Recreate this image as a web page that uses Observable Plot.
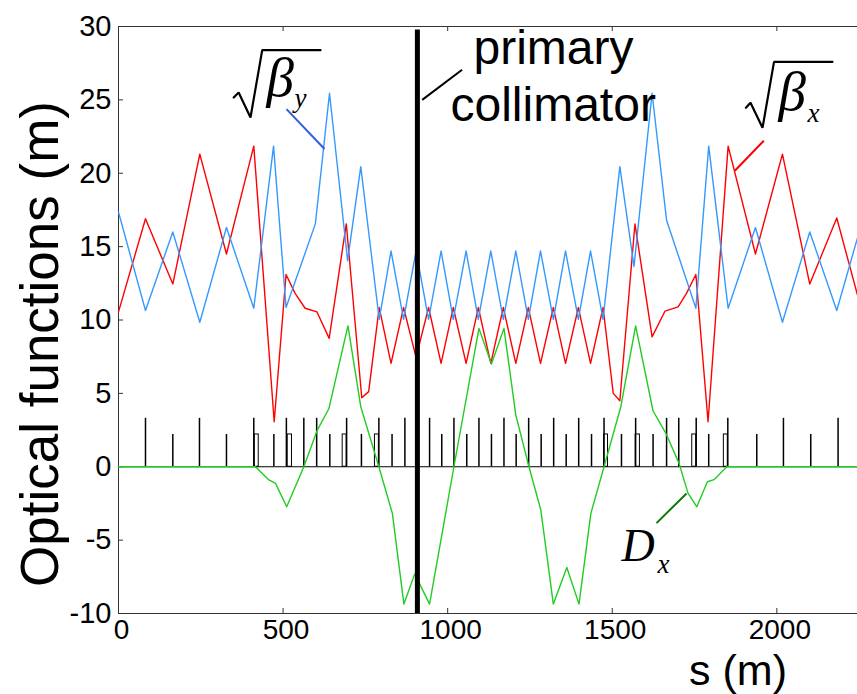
<!DOCTYPE html>
<html><head><meta charset="utf-8">
<script src="https://cdn.jsdelivr.net/npm/d3@7"></script>
<script src="https://cdn.jsdelivr.net/npm/@observablehq/plot@0.6"></script>
<style>body{margin:0;background:#fff}</style>
</head><body><div id="chart"></div>
<script>
// ---- data (s in m, values in m) ----
const sBetaY = [0, 82, 165, 247, 328, 411, 471, 509, 598, 641, 696, 736, 792, 828, 866, 904, 942, 980, 1017, 1056, 1093, 1131, 1169, 1207, 1245, 1282, 1321, 1358, 1397, 1434, 1472, 1523, 1566, 1621, 1665, 1754, 1793, 1852, 1935, 2017, 2100, 2182, 2245];
const sqrtBetaY = [17.35, 10.65, 16.0, 9.85, 16.3, 10.8, 21.85, 10.85, 16.55, 25.45, 14.05, 20.45, 10.05, 14.7, 10.05, 14.7, 10.05, 14.7, 10.05, 14.7, 10.05, 14.7, 10.05, 14.7, 10.05, 14.7, 10.05, 14.7, 10.05, 14.7, 10.05, 20.45, 13.65, 25.45, 16.8, 10.8, 21.85, 10.8, 16.3, 9.85, 16.0, 10.65, 15.6];

const sBetaX = [0, 82, 165, 247, 328, 411, 473, 509, 537, 567, 603, 640, 692, 739, 760, 792, 828, 866, 904, 942, 980, 1017, 1056, 1093, 1131, 1169, 1207, 1245, 1282, 1321, 1358, 1397, 1434, 1472, 1503, 1523, 1569, 1621, 1660, 1700, 1725, 1754, 1791, 1852, 1935, 2017, 2100, 2182, 2245];
const sqrtBetaX = [10.55, 16.9, 12.45, 21.3, 14.5, 21.85, 3.07, 13.1, 11.8, 10.8, 10.55, 8.75, 16.55, 4.7, 5.12, 10.85, 7.05, 10.85, 7.45, 10.85, 7.05, 10.85, 7.05, 10.85, 7.05, 10.85, 7.05, 10.85, 7.05, 10.85, 7.05, 10.85, 7.05, 10.85, 5.0, 4.5, 16.55, 8.85, 10.6, 10.9, 11.8, 13.1, 3.07, 21.85, 14.5, 21.3, 12.45, 16.95, 11.7];

const sDx = [0, 416, 457, 477, 511, 563, 604, 639, 697, 736, 791, 832, 867, 900, 945, 1019, 1095, 1133, 1171, 1207, 1247, 1283, 1321, 1362, 1399, 1435, 1475, 1526, 1571, 1624, 1663, 1703, 1730, 1757, 1789, 1809, 1848, 2245];
const dispX = [0, 0, -0.9, -1.13, -2.73, 0, 2.5, 3.95, 9.6, 4.09, 0, -3.18, -9.36, -7.3, -9.36, 0, 9.43, 7.0, 9.43, 3.52, 0, -2.95, -9.36, -6.86, -9.36, -3.18, 0, 4.09, 9.6, 3.8, 2.27, 0.23, -1.8, -2.73, -1.02, -0.88, 0, 0];

// lattice elements
const tallElems = [82, 246, 411, 510, 563, 602, 693, 791, 870, 945, 1019, 1095, 1171, 1246, 1322, 1398, 1475, 1571, 1665, 1702, 1755, 1851, 2020, 2186];
const shortElems = [165, 328, 472, 642, 738, 831, 908, 982, 1058, 1133, 1208, 1284, 1360, 1437, 1528, 1624, 1793, 1939, 2103];
const boxStart = [414, 514, 681, 779, 1475, 1571, 1743, 1839];
const boxEnd   = [426, 527, 693, 791, 1487, 1584, 1755, 1851];
const collimatorS = [908];

const xTicks = [0, 500, 1000, 1500, 2000];
const yTicks = [-10, -5, 0, 5, 10, 15, 20, 25, 30];

// ---- tables ----
const by = sBetaY.map((s, i) => ({s, v: sqrtBetaY[i]}));
const bx = sBetaX.map((s, i) => ({s, v: sqrtBetaX[i]}));
const dx = sDx.map((s, i) => ({s, v: dispX[i]}));
const boxes = boxStart.map((s, i) => ({s1: s, s2: boxEnd[i]}));

// annotation geometry (data units)
const radicalY = [{s:350,v:25.16},{s:365,v:25.5},{s:401,v:23.8},{s:436.6,v:28.39},{s:613.7,v:28.39}];
const radicalX = [{s:1906,v:24.46},{s:1920,v:24.8},{s:1956.5,v:23.1},{s:1991.4,v:27.59},{s:2169,v:27.59}];
const serifLabels = [
  {s:449.6, v:25.28, t:"β", size:55},
  {s:534.7, v:24.54, t:"y", size:27},
  {s:2005, v:24.28, t:"β", size:55},
  {s:2093, v:23.46, t:"x", size:27},
  {s:1528, v:-6.41, t:"D", size:46},
  {s:1637.5, v:-7.21, t:"x", size:27}
];
const sansLabels = [
  {s:1078.5, v:27.46, t:"primary"},
  {s:1008.6, v:23.57, t:"collimator"}
];
const leaders = [
  {s1:510.4, v1:24.37, s2:625.8, v2:21.65, c:"#2f5fe0"},
  {s1:1960.4, v1:22.21, s2:1872.3, v2:20.17, c:"#ff0000"},
  {s1:1634.4, v1:-3.84, s2:1725.6, v2:-1.82, c:"#0a7a0a"},
  {s1:922.6, v1:25.0, s2:1043.8, v2:27.05, c:"#000"}
];

const SANS = "'Liberation Sans', Arial, Helvetica, sans-serif";
const SERIF = "'Liberation Serif', 'Times New Roman', serif";

const chart = Plot.plot({
  width: 857, height: 694,
  marginLeft: 118, marginRight: 0, marginTop: 26, marginBottom: 81,
  x: {domain: [0, 2245], label: null},
  y: {domain: [-10, 30], label: null},
  style: {fontFamily: SANS, fontSize: "28px", color: "#000", background: "#fff"},
  marks: [
    // frame (top, bottom, left)
    Plot.ruleY([30, -10], {stroke: "#333", strokeWidth: 1}),
    Plot.ruleX([0], {stroke: "#333", strokeWidth: 1}),
    // inward ticks
    Plot.tickX(xTicks, {x: d => d, insetTop: 582, stroke: "#333"}),
    Plot.tickX(xTicks, {x: d => d, insetBottom: 582, stroke: "#333"}),
    Plot.tickY(yTicks, {y: d => d, insetRight: 734, stroke: "#333"}),
    // tick labels
    Plot.axisX(xTicks, {tickSize: 0, tickPadding: 6, dx: 3, tickFormat: d => String(d), label: null, fontSize: 28}),
    Plot.axisY(yTicks, {tickSize: 0, tickPadding: 7, tickFormat: d => String(d), label: null, fontSize: 29}),
    // lattice
    Plot.ruleY([0], {stroke: "#000", strokeWidth: 1.2}),
    Plot.ruleX(tallElems, {x: d => d, y1: 0, y2: 3.3, stroke: "#000", strokeWidth: 1.5}),
    Plot.ruleX(shortElems, {x: d => d, y1: 0, y2: 2.2, stroke: "#000", strokeWidth: 1.5}),
    Plot.rect(boxes, {x1: "s1", x2: "s2", y1: 0, y2: 2.2, fill: "none", stroke: "#000", strokeWidth: 1}),
    // optics
    Plot.line(bx, {x: "s", y: "v", stroke: "#ff0000", strokeWidth: 1.4}),
    Plot.line(by, {x: "s", y: "v", stroke: "#3399ff", strokeWidth: 1.4}),
    Plot.line(dx, {x: "s", y: "v", stroke: "#22cc22", strokeWidth: 1.4}),
    // collimator
    Plot.ruleX(collimatorS, {x: d => d, insetTop: 3.5, stroke: "#000", strokeWidth: 5}),
    // annotations
    Plot.link(leaders, {x1: "s1", y1: "v1", x2: "s2", y2: "v2", stroke: "c", strokeWidth: 2}),
    Plot.line(radicalY, {x: "s", y: "v", stroke: "#000", strokeWidth: 2.2, strokeLinejoin: "miter"}),
    Plot.line(radicalX, {x: "s", y: "v", stroke: "#000", strokeWidth: 2.2, strokeLinejoin: "miter"}),
    Plot.text(serifLabels, {x: "s", y: "v", text: "t", fontSize: d => d.size, fontFamily: SERIF, fontStyle: "italic", textAnchor: "start", lineAnchor: "bottom", fill: "#000"}),
    Plot.text(sansLabels, {x: "s", y: "v", text: "t", fontSize: 48, textAnchor: "start", lineAnchor: "bottom", fill: "#000"}),
    // axis titles
    Plot.text(["Optical functions (m)"], {frameAnchor: "left", textAnchor: "middle", dx: -77, dy: 24, rotate: -90, fontSize: 53, fill: "#000"}),
    Plot.text(["s (m)"], {frameAnchor: "bottom", textAnchor: "middle", dx: 250, dy: 71, lineAnchor: "bottom", fontSize: 43, fill: "#000"})
  ]
});
document.getElementById("chart").appendChild(chart);
</script>
</body></html>
